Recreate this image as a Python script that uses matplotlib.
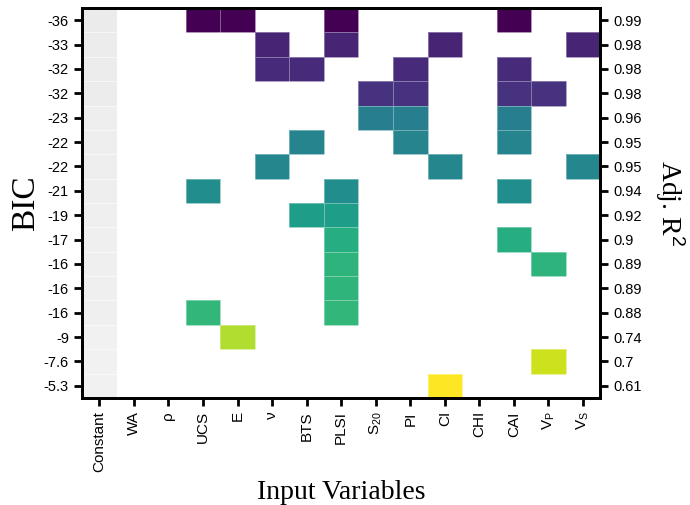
import numpy as np
import matplotlib
matplotlib.use('Agg')
import matplotlib.pyplot as plt
from matplotlib.colors import Normalize

plt.rcParams['font.family'] = ['Liberation Sans', 'DejaVu Sans']
plt.rcParams['mathtext.fontset'] = 'custom'
plt.rcParams['mathtext.rm'] = 'Liberation Sans'
plt.rcParams['mathtext.it'] = 'Liberation Sans:italic'

# variables (columns) and their tick labels
var_keys = ['Constant', 'WA', 'rho', 'UCS', 'E', 'nu', 'BTS', 'PLSI', 'S20',
            'PI', 'CI', 'CHI', 'CAI', 'Vp', 'Vs']
var_labels = ['Constant', 'WA', 'ρ', 'UCS', 'E', 'ν', 'BTS', 'PLSI', r'S$_{\mathrm{20}}$',
              'PI', 'CI', 'CHI', 'CAI', r'V$_{\mathrm{P}}$', r'V$_{\mathrm{S}}$']

# BIC per model (top to bottom), labels rounded to 2 significant digits
bic = [-36.0, -33.0, -32.4, -31.6, -23.0, -22.2, -21.8, -21.0, -19.0, -17.0,
       -16.2, -16.0, -15.8, -9.0, -7.6, -5.3]
adj_r2 = [0.99, 0.98, 0.98, 0.98, 0.96, 0.95, 0.95, 0.94, 0.92, 0.9,
          0.89, 0.89, 0.88, 0.74, 0.7, 0.61]

# variables included in each model
models = [
    ['UCS', 'E', 'PLSI', 'CAI'],
    ['nu', 'PLSI', 'CI', 'Vs'],
    ['nu', 'BTS', 'PI', 'CAI'],
    ['S20', 'PI', 'CAI', 'Vp'],
    ['S20', 'PI', 'CAI'],
    ['BTS', 'PI', 'CAI'],
    ['nu', 'CI', 'Vs'],
    ['UCS', 'PLSI', 'CAI'],
    ['BTS', 'PLSI'],
    ['PLSI', 'CAI'],
    ['PLSI', 'Vp'],
    ['PLSI'],
    ['UCS', 'PLSI'],
    ['E'],
    ['Vp'],
    ['CI'],
]

n_rows = len(bic)
n_cols = len(var_keys)

z = np.full((n_rows, n_cols), np.nan)
for i, m in enumerate(models):
    for v in m:
        z[i, var_keys.index(v)] = bic[i]

# constant column drawn in light grey
const = np.full((n_rows, n_cols), np.nan)
const[:, 0] = bic

fig = plt.figure(figsize=(6.9, 5.05), dpi=100)
ax = fig.add_axes([0.119, 0.212, 0.751, 0.772])

xe = np.arange(n_cols + 1) - 0.5
ye = np.arange(n_rows + 1) - 0.5
# linear grey: ~0.92 at best BIC, ~0.945 at worst
ax.pcolormesh(xe, ye, np.ma.masked_invalid(const), cmap='gray',
              norm=Normalize(-36 - 0.92 * 1230, -36 + 0.08 * 1230))
ax.pcolormesh(xe, ye, np.ma.masked_invalid(z), cmap='viridis',
              norm=Normalize(min(bic), max(bic)),
              edgecolor=(1, 1, 1, 0.35), linewidth=0.4)

ax.set_xlim(-0.5, n_cols - 0.5)
ax.set_ylim(n_rows - 0.5, -0.5)

ax.set_xticks(np.arange(n_cols))
ax.set_xticklabels(var_labels, rotation=90, fontsize=11)
ax.set_yticks(np.arange(n_rows))
ax.set_yticklabels(['%.2g' % b for b in bic], fontsize=10.5)
ax.tick_params(length=6, width=2, direction='out')
for s in ax.spines.values():
    s.set_linewidth(2)

ax2 = ax.twinx()
ax2.set_ylim(n_rows - 0.5, -0.5)
ax2.set_yticks(np.arange(n_rows))
ax2.set_yticklabels(['%.2g' % r for r in adj_r2], fontsize=10.5)
ax2.tick_params(length=6, width=2, direction='out')
for s in ax2.spines.values():
    s.set_linewidth(2)

ax.set_ylabel('BIC', fontsize=24, family='Liberation Serif', labelpad=2)
ax.set_xlabel('Input Variables', fontsize=20, family='Liberation Serif', labelpad=6)
ax2.set_ylabel('Adj. R$^{2}$', fontsize=20, family='Liberation Serif',
               rotation=270, labelpad=32)

fig.savefig('out.png', dpi=100)
